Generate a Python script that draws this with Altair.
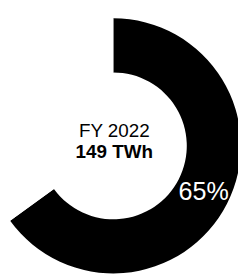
import altair as alt
import pandas as pd

categories = ["FY 2022", "Remaining"]
values = [65, 35]
labels = ["65%", ""]
colors = ["#000000", "#ffffff"]
center_line1 = "FY 2022"
center_line2 = "149 TWh"

df = pd.DataFrame({"cat": categories, "value": values, "label": labels, "idx": [0, 1]})

CX, CY = 109, 138

base = alt.Chart(df).encode(
    theta=alt.Theta("value:Q", stack=True),
    order=alt.Order("idx:Q"),
    x=alt.value(CX),
    y=alt.value(CY),
)

arc = base.mark_arc(radius=132, radius2=76, strokeWidth=0).encode(
    color=alt.Color("cat:N", scale=alt.Scale(domain=categories, range=colors), legend=None)
)

pct = base.mark_text(radius=105, font="Liberation Sans", fontSize=26, color="white",
                     align="center", baseline="middle").encode(text="label:N")

center = pd.DataFrame({"t": [center_line1, center_line2], "w": ["normal", "bold"], "row": [0, 1]})
t1 = alt.Chart(center).transform_filter("datum.row == 0").mark_text(
    font="Liberation Sans", fontSize=19.5, color="black", align="center", baseline="alphabetic"
).encode(text="t:N", x=alt.value(CX + 1), y=alt.value(CY - 9))
t2 = alt.Chart(center).transform_filter("datum.row == 1").mark_text(
    font="Liberation Sans", fontSize=19.5, fontWeight="bold", color="black", align="center", baseline="alphabetic"
).encode(text="t:N", x=alt.value(CX + 1), y=alt.value(CY + 13))

chart = alt.layer(arc, pct, t1, t2).properties(
    width=238, height=267, autosize=alt.AutoSizeParams(type="none"), padding=0,
    background="white"
).configure_view(stroke=None)

chart.save("out.html", embed_options={"renderer": "svg", "actions": False})
